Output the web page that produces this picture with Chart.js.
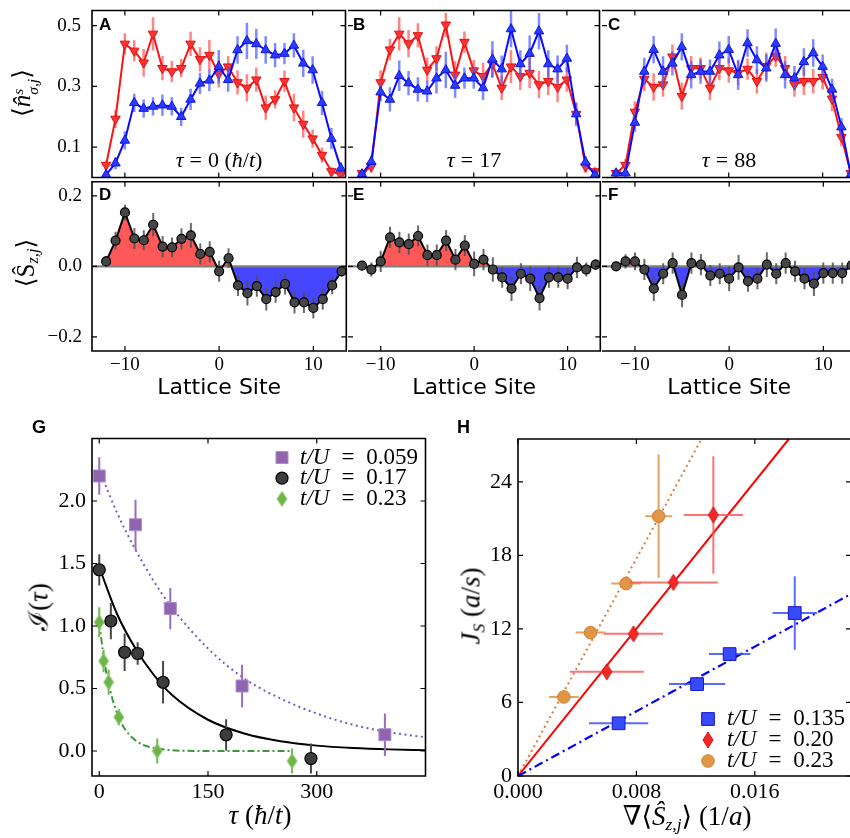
<!DOCTYPE html>
<html>
<head>
<meta charset="utf-8">
<script src="https://cdn.jsdelivr.net/npm/chart.js@4"></script>
<style>
  html, body { margin: 0; padding: 0; background: #fff; overflow: hidden; }
  #page { position: relative; width: 850px; height: 838px; overflow: hidden; }
  #page canvas { position: absolute; }
  .txt { position: absolute; white-space: nowrap; line-height: 1; color: #000;
         font-family: "Liberation Serif", "DejaVu Serif", serif; }
  .letter { font-family: "Liberation Sans", Arial, sans-serif; font-weight: bold; font-size: 17px; }
  .ctr { transform: translate(-50%, -50%); }
  .rot { transform: translate(-50%, -50%) rotate(-90deg); }
  .stack { display: inline-block; font-size: 0.62em; line-height: 0.95; vertical-align: -0.5em; text-align: left; }
  sub { font-size: 0.65em; line-height: 0; vertical-align: -0.3em; }
  .eq { margin: 0 6px; font-style: normal; }
</style>
</head>
<body>
<div id="page">
  <div class="txt letter" style="left:99px;top:16px">A</div>
  <div class="txt letter" style="left:353px;top:16px">B</div>
  <div class="txt letter" style="left:608px;top:16px">C</div>
  <div class="txt letter" style="left:99px;top:186px">D</div>
  <div class="txt letter" style="left:353px;top:186px">E</div>
  <div class="txt letter" style="left:608px;top:186px">F</div>
  <div class="txt letter" style="left:32px;top:418px;font-size:18px">G</div>
  <div class="txt letter" style="left:457px;top:418px;font-size:18px">H</div>

  <div class="txt ctr" style="left:219px;top:160px;font-size:22px"><i>τ</i><span class="eq">=</span>0 (<i>ħ</i>/<i>t</i>)</div>
  <div class="txt ctr" style="left:474px;top:160px;font-size:22px"><i>τ</i><span class="eq">=</span>17</div>
  <div class="txt ctr" style="left:729px;top:160px;font-size:22px"><i>τ</i><span class="eq">=</span>88</div>

  <div class="txt rot" style="left:25px;top:93px;font-size:25px">⟨<i>n̂</i><span class="stack"><i>s</i><br><i>σ,j</i></span>⟩</div>
  <div class="txt rot" style="left:25px;top:263px;font-size:25px">⟨Ŝ<sub><i>z,j</i></sub>⟩</div>
  <div class="txt rot" style="left:39px;top:607px;font-size:27px">ℐ(<i>τ</i>)</div>
  <div class="txt ctr" style="left:260px;top:815px;font-size:27px"><i>τ</i> (<i>ħ</i>/<i>t</i>)</div>
  <div class="txt rot" style="left:471px;top:606px;font-size:27px"><i>J</i><sub><i>S</i></sub> (<i>a</i>/<i>s</i>)</div>
  <div class="txt ctr" style="left:687px;top:816px;font-size:27px">∇⟨<i>Ŝ</i><sub><i>z,j</i></sub>⟩ (1/<i>a</i>)</div>
</div>

<script>
// ---- lattice profiles (panels A-F) ----
const sites = [-12, -11, -10, -9, -8, -7, -6, -5, -4, -3, -2, -1, 0, 1, 2, 3, 4, 5, 6, 7, 8, 9, 10, 11, 12, 13];
const siteTicks = [-10, 0, 10];
const densityTicks = [0.1, 0.3, 0.5];
const spinTicks = [-0.2, 0, 0.2];

const downA = [0.041, 0.193, 0.44, 0.417, 0.378, 0.473, 0.36, 0.349, 0.36, 0.44, 0.389, 0.403, 0.341, 0.365, 0.313, 0.295, 0.322, 0.23, 0.257, 0.317, 0.23, 0.176, 0.128, 0.074, 0.02, 0.009];
const upA = [0.009, 0.047, 0.122, 0.246, 0.227, 0.234, 0.238, 0.234, 0.2, 0.257, 0.31, 0.32, 0.365, 0.322, 0.42, 0.45, 0.44, 0.42, 0.403, 0.408, 0.435, 0.376, 0.354, 0.246, 0.128, 0.03];
const errDownA = [0.015, 0.03, 0.035, 0.035, 0.045, 0.055, 0.04, 0.035, 0.03, 0.04, 0.04, 0.05, 0.045, 0.035, 0.04, 0.045, 0.04, 0.04, 0.03, 0.035, 0.045, 0.045, 0.03, 0.025, 0.015, 0.01];
const errUpA = [0.01, 0.02, 0.03, 0.03, 0.03, 0.03, 0.035, 0.03, 0.03, 0.035, 0.035, 0.035, 0.055, 0.04, 0.045, 0.06, 0.05, 0.045, 0.04, 0.035, 0.04, 0.045, 0.045, 0.04, 0.035, 0.02];

const downB = [0.014, 0.036, 0.313, 0.421, 0.473, 0.441, 0.468, 0.354, 0.392, 0.503, 0.338, 0.446, 0.352, 0.333, 0.374, 0.295, 0.365, 0.333, 0.344, 0.306, 0.317, 0.298, 0.322, 0.209, 0.036, 0.02];
const upB = [0.011, 0.052, 0.281, 0.257, 0.335, 0.311, 0.29, 0.284, 0.327, 0.354, 0.303, 0.327, 0.327, 0.295, 0.389, 0.357, 0.489, 0.374, 0.408, 0.482, 0.374, 0.357, 0.392, 0.209, 0.05, 0.009];
const errDownB = [0.015, 0.02, 0.04, 0.035, 0.055, 0.045, 0.04, 0.04, 0.04, 0.04, 0.045, 0.035, 0.035, 0.045, 0.045, 0.04, 0.055, 0.045, 0.05, 0.045, 0.045, 0.05, 0.04, 0.04, 0.02, 0.015];
const errUpB = [0.01, 0.02, 0.03, 0.04, 0.05, 0.04, 0.04, 0.035, 0.05, 0.06, 0.04, 0.035, 0.035, 0.04, 0.06, 0.045, 0.06, 0.045, 0.06, 0.06, 0.045, 0.045, 0.045, 0.035, 0.02, 0.01];

const downC = [0.014, 0.041, 0.216, 0.324, 0.298, 0.306, 0.398, 0.268, 0.36, 0.36, 0.295, 0.36, 0.352, 0.344, 0.357, 0.317, 0.367, 0.4, 0.36, 0.306, 0.317, 0.317, 0.33, 0.259, 0.133, 0.014];
const upC = [0.014, 0.014, 0.181, 0.349, 0.421, 0.349, 0.376, 0.43, 0.338, 0.349, 0.349, 0.403, 0.421, 0.338, 0.443, 0.387, 0.36, 0.441, 0.338, 0.327, 0.381, 0.41, 0.365, 0.29, 0.166, 0.01];
const errDownC = [0.015, 0.02, 0.035, 0.04, 0.045, 0.04, 0.04, 0.045, 0.04, 0.035, 0.04, 0.04, 0.04, 0.04, 0.035, 0.04, 0.045, 0.035, 0.04, 0.04, 0.045, 0.04, 0.04, 0.04, 0.03, 0.015];
const errUpC = [0.01, 0.015, 0.03, 0.045, 0.045, 0.05, 0.04, 0.045, 0.045, 0.04, 0.04, 0.045, 0.045, 0.05, 0.045, 0.045, 0.045, 0.05, 0.045, 0.04, 0.045, 0.045, 0.04, 0.035, 0.03, 0.015];

const spinD = [0.014, 0.073, 0.153, 0.079, 0.074, 0.118, 0.056, 0.054, 0.078, 0.088, 0.035, 0.041, -0.014, 0.023, -0.054, -0.076, -0.056, -0.093, -0.073, -0.05, -0.102, -0.102, -0.118, -0.093, -0.054, -0.014];
const spinE = [0.002, -0.009, 0.014, 0.082, 0.068, 0.063, 0.086, 0.032, 0.032, 0.073, 0.019, 0.059, 0.007, 0.019, -0.009, -0.031, -0.063, -0.021, -0.035, -0.09, -0.031, -0.031, -0.035, -0.003, -0.009, 0.005];
const spinF = [0.0, 0.014, 0.014, -0.009, -0.063, -0.021, 0.009, -0.081, 0.009, 0.005, -0.026, -0.021, -0.035, -0.003, -0.042, -0.035, 0.005, -0.021, 0.009, -0.014, -0.035, -0.049, -0.019, -0.019, -0.019, 0.003];
const errSpinD = [0.015, 0.025, 0.022, 0.03, 0.028, 0.033, 0.03, 0.028, 0.03, 0.035, 0.03, 0.03, 0.03, 0.028, 0.03, 0.035, 0.03, 0.032, 0.03, 0.03, 0.032, 0.03, 0.03, 0.03, 0.025, 0.015];
const errSpinE = [0.012, 0.02, 0.03, 0.03, 0.03, 0.03, 0.03, 0.03, 0.03, 0.03, 0.03, 0.03, 0.035, 0.03, 0.035, 0.03, 0.035, 0.03, 0.035, 0.035, 0.03, 0.03, 0.03, 0.03, 0.02, 0.015];
const errSpinF = [0.012, 0.02, 0.025, 0.03, 0.035, 0.03, 0.03, 0.035, 0.03, 0.03, 0.03, 0.03, 0.035, 0.035, 0.03, 0.03, 0.035, 0.03, 0.03, 0.03, 0.03, 0.035, 0.03, 0.03, 0.03, 0.015];

// ---- panel G: imbalance decay ----
const tauPurple = [0, 50, 98, 197, 394];
const iPurple = [2.2, 1.81, 1.14, 0.52, 0.13];
const errPurple = [0.15, 0.2, 0.165, 0.17, 0.17];
const tauBlack = [0, 16, 35, 53, 88, 175, 292];
const iBlack = [1.45, 1.04, 0.79, 0.78, 0.55, 0.13, -0.06];
const errBlack = [0.125, 0.145, 0.15, 0.09, 0.17, 0.125, 0.12];
const tauGreen = [0, 6, 13, 27, 80, 266];
const iGreen = [1.03, 0.72, 0.55, 0.27, 0.0, -0.08];
const errGreen = [0.12, 0.09, 0.1, 0.066, 0.1, 0.1];
const fitTau = [0, 25, 50, 75, 100, 150, 200, 250, 300, 350, 400, 450];
const fitPurple = [2.25, 1.90, 1.61, 1.36, 1.15, 0.82, 0.58, 0.42, 0.30, 0.21, 0.15, 0.11];
const fitBlack = [1.47, 1.09, 0.82, 0.61, 0.45, 0.25, 0.14, 0.078, 0.043, 0.024, 0.013, 0.007];
const fitGreenTau = [0, 5, 10, 15, 20, 30, 40, 50, 60, 80, 100, 150, 200, 266];
const fitGreen = [1.03, 0.80, 0.62, 0.49, 0.38, 0.23, 0.14, 0.085, 0.05, 0.02, 0.006, 0, 0, 0];
const tauTicks = [0, 150, 300];
const imbTicks = [0, 0.5, 1.0, 1.5, 2.0];

// ---- panel H: spin current vs gradient ----
const gradBlue = [0.0068, 0.0121, 0.0143, 0.0187];
const jBlue = [4.3, 7.5, 9.95, 13.3];
const xErrBlue = [0.002, 0.0019, 0.0014, 0.0015];
const yErrBlue = [0.4, 0.4, 0.4, 3.0];
const gradRed = [0.006, 0.0078, 0.0105, 0.0132];
const jRed = [8.5, 11.6, 15.8, 21.3];
const xErrRed = [0.0025, 0.002, 0.003, 0.002];
const yErrRed = [0.4, 0.4, 0.5, 4.8];
const gradOrange = [0.0031, 0.0049, 0.0073, 0.0095];
const jOrange = [6.45, 11.7, 15.7, 21.2];
const xErrOrange = [0.001, 0.001, 0.001, 0.0009];
const yErrOrange = [0.3, 0.3, 0.4, 5.05];
const fitGradBlue = [0, 0.0225], fitJBlue = [0, 14.85];
const fitGradRed = [0, 0.0183], fitJRed = [0, 27.5];
const fitGradOrange = [0, 0.0124], fitJOrange = [0, 27.5];
const gradTicks = [0, 0.008, 0.016];
const currentTicks = [0, 6, 12, 18, 24];

const page = document.getElementById('page');
const minus = s => String(s).replace('-', '\u2212');
const pts = (xs, ys) => xs.map((x, i) => ({ x: x, y: ys[i] }));

// marker for matplotlib's thin diamond
function thinDiamond(w, h, fill, edge) {
    const c = document.createElement('canvas');
    c.width = w + 2; c.height = h + 2;
    const g = c.getContext('2d');
    g.beginPath();
    g.moveTo(c.width / 2, 1); g.lineTo(w + 1, c.height / 2);
    g.lineTo(c.width / 2, h + 1); g.lineTo(1, c.height / 2);
    g.closePath();
    g.fillStyle = fill; g.fill();
    g.strokeStyle = edge; g.lineWidth = 1; g.stroke();
    return c;
}

// frame + inward ticks on all four sides (shared edges drawn once)
const framePlugin = {
    id: 'frame',
    afterDraw(chart, args, opts) {
        const { ctx, chartArea: a, scales } = chart;
        ctx.save();
        ctx.strokeStyle = '#000';
        ctx.lineWidth = 1.2;
        ctx.beginPath();
        scales.x.ticks.forEach(t => {
            const px = scales.x.getPixelForValue(t.value);
            ctx.moveTo(px, a.bottom); ctx.lineTo(px, a.bottom - 5);
            ctx.moveTo(px, a.top); ctx.lineTo(px, a.top + 5);
        });
        scales.y.ticks.forEach(t => {
            const py = scales.y.getPixelForValue(t.value);
            ctx.moveTo(a.left, py); ctx.lineTo(a.left + 5, py);
            ctx.moveTo(a.right, py); ctx.lineTo(a.right - 5, py);
        });
        ctx.stroke();
        ctx.lineWidth = 1.6;
        ctx.beginPath();
        ctx.moveTo(a.left, a.top); ctx.lineTo(a.right, a.top);
        ctx.lineTo(a.right, a.bottom); ctx.lineTo(a.left, a.bottom);
        if (!(opts && opts.noLeft)) ctx.closePath();
        ctx.stroke();
        ctx.restore();
    }
};

// error bars drawn just before their own dataset; zero line after the spin fill
const errorPlugin = {
    id: 'errorBars',
    beforeDatasetDraw(chart, args) {
        const ds = chart.data.datasets[args.index];
        if (!ds.errY && !ds.errX) return;
        const { ctx, chartArea: a } = chart;
        const xs = chart.scales.x, ys = chart.scales.y;
        ctx.save();
        ctx.beginPath(); ctx.rect(a.left, a.top, a.right - a.left, a.bottom - a.top); ctx.clip();
        ctx.strokeStyle = ds.errColor;
        ctx.lineWidth = ds.errWidth || 2;
        ds.data.forEach((p, j) => {
            const px = xs.getPixelForValue(p.x), py = ys.getPixelForValue(p.y);
            ctx.beginPath();
            if (ds.errY) {
                ctx.moveTo(px, ys.getPixelForValue(p.y - ds.errY[j]));
                ctx.lineTo(px, ys.getPixelForValue(p.y + ds.errY[j]));
            }
            if (ds.errX) {
                ctx.moveTo(xs.getPixelForValue(p.x - ds.errX[j]), py);
                ctx.lineTo(xs.getPixelForValue(p.x + ds.errX[j]), py);
            }
            ctx.stroke();
        });
        ctx.restore();
    },
    afterDatasetDraw(chart, args) {
        const ds = chart.data.datasets[args.index];
        if (!ds.zeroLine) return;
        const { ctx, chartArea: a } = chart;
        const y0 = chart.scales.y.getPixelForValue(0);
        ctx.save();
        ctx.strokeStyle = '#7f7f7f';
        ctx.lineWidth = 2.2;
        ctx.beginPath(); ctx.moveTo(a.left, y0); ctx.lineTo(a.right, y0); ctx.stroke();
        ctx.restore();
    }
};

// legend inside the plot area (marker, italic t/U, then value)
const insetLegend = {
    id: 'insetLegend',
    afterDraw(chart, args, opts) {
        if (!opts || opts.x === undefined) return;
        const { ctx, chartArea: a } = chart;
        const items = chart.data.datasets.filter(d => d.label);
        ctx.save();
        items.forEach((d, i) => {
            const cx = a.left + opts.x, cy = a.top + opts.y + i * opts.rowH;
            ctx.fillStyle = d.pointBackgroundColor;
            ctx.strokeStyle = d.pointBorderColor;
            ctx.lineWidth = d.pointBorderWidth || 1;
            const style = { pointStyle: d.pointStyle, radius: d.pointRadius, rotation: 0, borderWidth: d.pointBorderWidth || 1 };
            Chart.helpers.drawPoint(ctx, style, cx, cy);
            const parts = d.label.split(' = ');
            let tx = cx + opts.gap;
            ctx.fillStyle = '#000';
            ctx.textBaseline = 'middle';
            ctx.font = 'italic 23px "Liberation Serif"';
            ctx.fillText(parts[0], tx, cy);
            tx += ctx.measureText(parts[0]).width + 12;
            ctx.font = '23px "Liberation Serif"';
            ctx.fillText('=', tx, cy);
            tx += ctx.measureText('=').width + 12;
            ctx.fillText(parts[1], tx, cy);
        });
        ctx.restore();
    }
};

function axis(a, dir, size) {
    return {
        type: 'linear', min: a.min, max: a.max,
        afterBuildTicks: s => { s.ticks = a.ticks.map(v => ({ value: v })); },
        afterFit: s => {
            // fixed axis box; no extra room for overhanging labels
            if (dir === 'x') { s.height = size; s.paddingLeft = 0; s.paddingRight = 0; }
            else { s.width = size; s.paddingTop = 0; s.paddingBottom = 0; }
        },
        grid: { display: false, drawTicks: false },
        border: { display: false },
        ticks: {
            display: !!a.labels, color: '#000', padding: a.pad || 6,
            font: { family: 'Liberation Serif', size: a.fontSize || 19 },
            callback: a.fmt || (v => v)
        },
        title: a.title ? {
            display: true, text: a.title, color: '#000',
            font: { family: 'DejaVu Sans', size: 22 }, padding: { top: 0, bottom: 10 }
        } : { display: false }
    };
}

function makeChart(box, pad, datasets, xAx, yAx, legend, noLeft) {
    const c = document.createElement('canvas');
    const w = box.r - box.l + pad.l + pad.r;
    const h = box.b - box.t + pad.t + pad.b;
    c.width = w; c.height = h;
    c.style.width = w + 'px'; c.style.height = h + 'px';
    c.style.left = (box.l - pad.l) + 'px';
    c.style.top = (box.t - pad.t) + 'px';
    page.insertBefore(c, page.firstChild);
    return new Chart(c.getContext('2d'), {
        type: 'line',
        data: { datasets: datasets },
        options: {
            responsive: false, animation: false, events: [],
            layout: { padding: { left: 0, top: pad.t, right: pad.r, bottom: 0 } },
            plugins: {
                legend: { display: false }, tooltip: { enabled: false },
                insetLegend: legend || {}, frame: { noLeft: !!noLeft }
            },
            scales: { x: axis(xAx, 'x', pad.b), y: axis(yAx, 'y', pad.l) }
        },
        plugins: [errorPlugin, framePlugin, insetLegend]
    });
}

function densitySets(up, down, errUp, errDown) {
    return [
        {
            data: pts(sites, up), errY: errUp, errColor: 'rgba(70,90,255,0.7)', errWidth: 2.5,
            borderColor: 'rgb(10,10,255)', borderWidth: 2, pointStyle: 'triangle', pointRadius: 5.5,
            pointBackgroundColor: 'rgb(40,60,255)', pointBorderColor: 'rgb(20,20,220)', pointBorderWidth: 1
        },
        {
            data: pts(sites, down), errY: errDown, errColor: 'rgba(255,80,80,0.7)', errWidth: 2.5,
            borderColor: 'rgb(250,20,20)', borderWidth: 2, pointStyle: 'triangle', pointRotation: 180, pointRadius: 5.5,
            pointBackgroundColor: 'rgb(255,50,50)', pointBorderColor: 'rgb(220,20,20)', pointBorderWidth: 1
        }
    ];
}

function spinSets(spin, err) {
    return [
        {
            data: pts(sites, spin), errY: err, errColor: 'rgba(80,80,80,0.85)', errWidth: 2,
            borderColor: '#000', borderWidth: 2, pointRadius: 4.5,
            pointBackgroundColor: 'rgb(70,70,70)', pointBorderColor: '#000', pointBorderWidth: 1.2
        },
        {
            data: pts(sites, spin), zeroLine: true, borderWidth: 0, pointRadius: 0,
            fill: { target: 'origin', above: 'rgb(255,88,88)', below: 'rgb(70,70,255)' }
        }
    ];
}

const densY = { min: 0, max: 0.55, ticks: densityTicks, fmt: v => v.toFixed(1), pad: 11 };
const spinY = { min: -0.24, max: 0.24, ticks: spinTicks, fmt: v => minus(v.toFixed(1)), pad: 10 };
const siteX = { min: -13.5, max: 13.5, ticks: siteTicks };
const siteXl = { min: -13.5, max: 13.5, ticks: siteTicks, labels: true, fmt: v => minus(v), pad: 3, title: 'Lattice Site' };

const topPad = { l: 70, t: 5, r: 4, b: 4 };
const botPad = { l: 70, t: 4, r: 4, b: 60 };

makeChart({ l: 92, t: 9, r: 348, b: 180 }, topPad, densitySets(upA, downA, errUpA, errDownA), siteX, Object.assign({ labels: true }, densY));
makeChart({ l: 348, t: 9, r: 602, b: 180 }, topPad, densitySets(upB, downB, errUpB, errDownB), siteX, densY, null, true);
makeChart({ l: 602, t: 9, r: 858, b: 180 }, topPad, densitySets(upC, downC, errUpC, errDownC), siteX, densY, null, true);

makeChart({ l: 92, t: 180, r: 348, b: 351 }, botPad, spinSets(spinD, errSpinD), siteXl, Object.assign({ labels: true }, spinY));
makeChart({ l: 348, t: 180, r: 602, b: 351 }, botPad, spinSets(spinE, errSpinE), siteXl, spinY, null, true);
makeChart({ l: 602, t: 180, r: 858, b: 351 }, botPad, spinSets(spinF, errSpinF), siteXl, spinY, null, true);

// panel G
const greenDiamond = thinDiamond(10, 15, 'rgb(110,180,75)', 'rgb(150,205,115)');
makeChart({ l: 92, t: 434, r: 431, b: 776 }, { l: 60, t: 5, r: 4, b: 40 }, [
    {
        label: 't/U = 0.059', data: pts(tauPurple, iPurple), showLine: false,
        errY: errPurple, errColor: 'rgb(150,110,185)', errWidth: 2,
        pointStyle: 'rect', pointRadius: 8.5, pointBackgroundColor: 'rgb(145,100,175)',
        pointBorderColor: 'rgb(175,140,210)', pointBorderWidth: 1
    },
    {
        label: 't/U = 0.17', data: pts(tauBlack, iBlack), showLine: false,
        errY: errBlack, errColor: 'rgb(70,70,70)', errWidth: 2,
        pointStyle: 'circle', pointRadius: 6, pointBackgroundColor: 'rgb(60,60,60)',
        pointBorderColor: '#000', pointBorderWidth: 1.2
    },
    {
        label: 't/U = 0.23', data: pts(tauGreen, iGreen), showLine: false,
        errY: errGreen, errColor: 'rgb(110,185,75)', errWidth: 2,
        pointStyle: greenDiamond, pointRadius: 7, pointBackgroundColor: 'rgb(110,180,75)',
        pointBorderColor: 'rgb(150,205,115)', pointBorderWidth: 1
    },
    {
        data: pts(fitTau, fitPurple), pointRadius: 0, borderColor: 'rgb(120,90,190)', borderWidth: 2,
        borderDash: [2, 3.5], cubicInterpolationMode: 'monotone'
    },
    {
        data: pts(fitTau, fitBlack), pointRadius: 0, borderColor: '#000', borderWidth: 2,
        cubicInterpolationMode: 'monotone'
    },
    {
        data: pts(fitGreenTau, fitGreen), pointRadius: 0, borderColor: 'rgb(60,150,60)', borderWidth: 2,
        borderDash: [7, 3, 2, 3], cubicInterpolationMode: 'monotone'
    }
], { min: -10, max: 450, ticks: tauTicks, labels: true, fontSize: 22, pad: 3 },
   { min: -0.2, max: 2.5, ticks: imbTicks, labels: true, fontSize: 22, pad: 6, fmt: v => v.toFixed(1) },
   { x: 190, y: 19, rowH: 20.7, gap: 18 });

// panel H
const redDiamond = thinDiamond(10, 16, 'rgb(245,40,40)', 'rgb(210,20,20)');
makeChart({ l: 518, t: 434, r: 857, b: 776 }, { l: 60, t: 5, r: 4, b: 40 }, [
    {
        label: 't/U = 0.135', data: pts(gradBlue, jBlue), showLine: false,
        errX: xErrBlue, errY: yErrBlue, errColor: 'rgba(60,80,255,0.85)', errWidth: 2,
        pointStyle: 'rect', pointRadius: 9, pointBackgroundColor: 'rgb(55,75,250)',
        pointBorderColor: 'rgb(20,20,210)', pointBorderWidth: 1
    },
    {
        label: 't/U = 0.20', data: pts(gradRed, jRed), showLine: false,
        errX: xErrRed, errY: yErrRed, errColor: 'rgba(250,90,90,0.85)', errWidth: 2,
        pointStyle: redDiamond, pointRadius: 8, pointBackgroundColor: 'rgb(245,40,40)',
        pointBorderColor: 'rgb(210,20,20)', pointBorderWidth: 1
    },
    {
        label: 't/U = 0.23', data: pts(gradOrange, jOrange), showLine: false,
        errX: xErrOrange, errY: yErrOrange, errColor: 'rgb(230,160,95)', errWidth: 2,
        pointStyle: 'circle', pointRadius: 6.3, pointBackgroundColor: 'rgb(225,150,70)',
        pointBorderColor: 'rgb(205,130,55)', pointBorderWidth: 1
    },
    {
        data: pts(fitGradBlue, fitJBlue), pointRadius: 0, borderColor: 'rgb(0,0,255)', borderWidth: 2.2,
        borderDash: [9, 4, 2, 4]
    },
    {
        data: pts(fitGradRed, fitJRed), pointRadius: 0, borderColor: 'rgb(255,0,0)', borderWidth: 2
    },
    {
        data: pts(fitGradOrange, fitJOrange), pointRadius: 0, borderColor: 'rgb(215,125,55)', borderWidth: 2,
        borderDash: [2, 3.5]
    }
], { min: 0, max: 0.0225, ticks: gradTicks, labels: true, fontSize: 22, pad: 3, fmt: v => v.toFixed(3) },
   { min: 0, max: 27.5, ticks: currentTicks, labels: true, fontSize: 22, pad: 6 },
   { x: 190, y: 280, rowH: 21, gap: 19 });
</script>
</body>
</html>
